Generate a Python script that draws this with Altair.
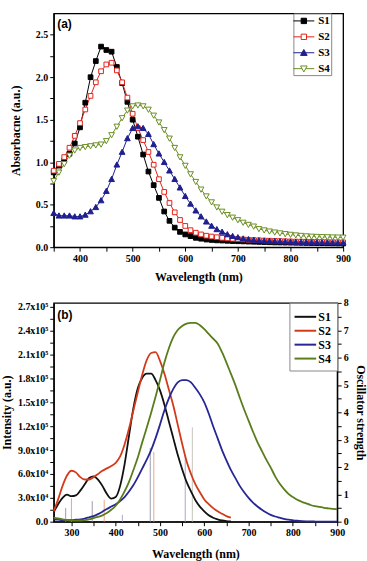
import altair as alt
import pandas as pd

SERIES = ["S1", "S2", "S3", "S4"]

# ---------------- (a) absorbance, 350-900 nm, every 10 nm ----------------
abs_wl = list(range(350, 901, 10))
abs_s1 = [0.88, 0.96, 1.02, 1.10, 1.22, 1.41, 1.70, 2.00, 2.19, 2.36,
          2.32, 2.30, 2.12, 1.93, 1.71, 1.50, 1.30, 1.09, 0.89, 0.73,
          0.58, 0.42, 0.31, 0.23, 0.18, 0.15, 0.13, 0.11, 0.10, 0.09,
          0.085, 0.08, 0.078, 0.075, 0.072, 0.07, 0.068, 0.066, 0.064, 0.062,
          0.06, 0.058, 0.056, 0.055, 0.054, 0.053, 0.052, 0.051, 0.05, 0.049,
          0.048, 0.047, 0.046, 0.045, 0.044, 0.043]
abs_s2 = [0.90, 0.98, 1.06, 1.17, 1.31, 1.46, 1.62, 1.78, 1.94, 2.07,
          2.15, 2.17, 2.08, 1.94, 1.76, 1.57, 1.40, 1.26, 1.12, 0.97,
          0.80, 0.65, 0.52, 0.41, 0.32, 0.25, 0.20, 0.17, 0.15, 0.135,
          0.125, 0.117, 0.11, 0.104, 0.099, 0.095, 0.091, 0.087, 0.084, 0.081,
          0.078, 0.076, 0.074, 0.072, 0.07, 0.068, 0.066, 0.065, 0.064, 0.063,
          0.062, 0.061, 0.06, 0.059, 0.058, 0.057]
abs_s3 = [0.40, 0.37, 0.37, 0.37, 0.36, 0.36, 0.38, 0.42, 0.47, 0.55,
          0.66, 0.80, 0.97, 1.12, 1.28, 1.40, 1.42, 1.40, 1.33, 1.21,
          1.10, 1.00, 0.90, 0.80, 0.70, 0.60, 0.51, 0.43, 0.36, 0.30,
          0.25, 0.21, 0.18, 0.15, 0.13, 0.115, 0.10, 0.092, 0.085, 0.08,
          0.076, 0.073, 0.07, 0.068, 0.066, 0.064, 0.062, 0.061, 0.06, 0.059,
          0.058, 0.057, 0.056, 0.055, 0.054, 0.053]
abs_s4 = [0.78, 0.88, 0.98, 1.08, 1.14, 1.17, 1.18, 1.19, 1.20, 1.21,
          1.25, 1.32, 1.42, 1.52, 1.61, 1.66, 1.67, 1.66, 1.62, 1.55,
          1.47, 1.38, 1.28, 1.17, 1.06, 0.96, 0.86, 0.77, 0.68, 0.60,
          0.53, 0.47, 0.42, 0.38, 0.35, 0.32, 0.29, 0.265, 0.245, 0.215,
          0.20, 0.187, 0.175, 0.165, 0.156, 0.148, 0.141, 0.135, 0.13, 0.126,
          0.123, 0.121, 0.119, 0.117, 0.116, 0.115]

# ---------------- (b) emission (x1000 a.u.) ----------------
em_wl_short = list(range(260, 661, 10))
em_wl_long = list(range(260, 901, 10))
em_s1 = [12, 22, 30, 34, 32, 33, 39, 47, 55, 57,
         53, 45, 35, 29, 31, 45, 72, 108, 143, 168,
         181, 186, 186, 178, 165, 147, 126, 105, 84, 66,
         50, 38, 27, 19, 13, 8, 5, 3, 1.5, 0.7, 0.3]
em_s2 = [13, 28, 45, 58, 64, 62, 56, 53, 53, 56,
         60, 64, 67, 70, 74, 82, 97, 117, 140, 163,
         185, 203, 212, 213, 202, 186, 166, 146, 122, 98,
         76, 60, 47, 37, 28, 22, 17, 13, 10, 7, 5]
em_s3 = [3, 2.5, 2, 2, 2, 2.5, 3, 4, 5.5, 7,
         9.5, 12.5, 16, 19, 22, 26, 31, 38, 46, 56,
         67, 78, 90, 105, 122, 140, 155, 167, 175, 178,
         178, 175, 168, 160, 150, 136, 120, 105, 90, 77,
         65, 55, 45, 37, 30, 24, 19, 15, 11.5, 8.5,
         6.5, 5, 3.5, 2.5, 1.8, 1.2, 0.8, 0.5, 0.3, 0.2,
         0.1, 0.1, 0, 0, 0]
em_s4 = [5, 4, 3, 2, 1.5, 1.3, 1.5, 2, 3, 4.5,
         6, 8, 11, 15, 20, 28, 38, 50, 65, 81,
         100, 118, 137, 157, 178, 200, 218, 232, 241, 246,
         249, 250, 250, 247, 242, 236, 230, 224, 213, 200,
         186, 172, 156, 141, 127, 113, 100, 89, 78, 68,
         57, 48, 41, 35, 31, 27.5, 25, 23, 21, 19.5,
         18.5, 17.5, 16.8, 16.2, 15.5]

# oscillator strengths (stick spectrum)
osc_series = ["S1", "S1", "S1", "S2", "S2", "S2", "S3", "S3", "S4"]
osc_wl = [287, 347, 478, 300, 374, 486, 415, 557, 573]
osc_f = [0.5, 0.75, 2.7, 0.85, 0.8, 2.55, 0.25, 2.45, 3.45]

# ---------------- tables ----------------
abs_rows = []
for name, vals in zip(SERIES, [abs_s1, abs_s2, abs_s3, abs_s4]):
    for w, v in zip(abs_wl, vals):
        abs_rows.append({"series": name, "wl": w, "a": v})
abs_df = pd.DataFrame(abs_rows)

em_rows = []
for name, xs, vals in zip(SERIES, [em_wl_short, em_wl_short, em_wl_long, em_wl_long],
                          [em_s1, em_s2, em_s3, em_s4]):
    for w, v in zip(xs, vals):
        em_rows.append({"series": name, "wl": w, "i": v * 1000})
em_df = pd.DataFrame(em_rows)

osc_df = pd.DataFrame({"series": osc_series, "wl": osc_wl, "f": osc_f})

SERIF = "Liberation Serif"


def panel_label_axis(text, ty):
    # a bare top axis whose only visible part is the panel tag, placed inside the frame
    return alt.Axis(orient="top", title=text, domain=False, ticks=False, labels=False,
                    titleAngle=0, titleAlign="left", titleBaseline="middle",
                    titleX=3, titleY=ty, titleFont="Liberation Sans", titleFontSize=12,
                    titleFontWeight="bold")


# ---------------- panel (a) ----------------
top_colors = ["#000000", "#e2231a", "#1f1f8f", "#6b8e23"]
top_fills = ["#000000", "#ffffff", "#1f1f8f", "#ffffff"]
SQ = "M-0.45,-0.45H0.45V0.45H-0.45Z"
TU = "M0,-0.55L0.55,0.45L-0.55,0.45Z"
TD = "M0,0.55L0.55,-0.45L-0.55,-0.45Z"
top_shapes = [SQ, SQ, TU, TD]

top_xscale = alt.Scale(domain=[350, 900], nice=False, zero=False)
x_top = alt.X("wl:Q", scale=top_xscale,
              axis=alt.Axis(values=list(range(350, 901, 50)),
                            labelExpr="datum.value % 100 == 0 && datum.value > 350 ? datum.value : ''",
                            title="Wavelength (nm)", titleY=29, titleBaseline="middle"))
x_top_tag = alt.X("wl:Q", scale=top_xscale, axis=panel_label_axis("(a)", 10))
y_top = alt.Y("a:Q", scale=alt.Scale(domain=[0, 2.75], nice=False),
              axis=alt.Axis(values=[i * 0.25 for i in range(11)],
                            labelExpr="(datum.value * 2) % 1 == 0 ? format(datum.value, '.1f') : ''",
                            title="Absorbacne (a.u.)", titleX=-38, titleBaseline="middle"))
col_top = alt.Scale(domain=SERIES, range=top_colors)

line_legend = alt.Legend(title=None, orient="none", legendX=241, legendY=0,
                         fillColor="white", strokeColor="#888888", padding=1, rowPadding=4,
                         labelFont=SERIF, labelFontWeight="bold", labelFontSize=11,
                         labelColor="black", symbolSize=144, symbolOffset=3, labelOffset=8,
                         symbolType="M-1.75,0H1.75", symbolStrokeWidth=1,
                         symbolFillColor="transparent", zindex=0)
point_legend = alt.Legend(title=None, orient="none", legendX=241, legendY=0,
                          fillColor="transparent", strokeColor="transparent", padding=1, rowPadding=4,
                          labelFont=SERIF, labelFontWeight="bold", labelFontSize=11,
                          labelExpr="''", symbolSize=144, symbolOffset=3, labelOffset=8,
                          symbolStrokeWidth=1, zindex=1)

top_lines = alt.Chart(abs_df).mark_line(strokeWidth=1).encode(
    x=x_top, y=y_top,
    color=alt.Color("series:N", scale=col_top, legend=line_legend),
)
top_points = alt.Chart(abs_df).mark_point(size=110, strokeWidth=1, opacity=1, fillOpacity=1).encode(
    x=x_top_tag, y=y_top,
    color=alt.Color("series:N", scale=col_top, legend=point_legend),
    fill=alt.Fill("series:N", scale=alt.Scale(domain=SERIES, range=top_fills), legend=point_legend),
    shape=alt.Shape("series:N", scale=alt.Scale(domain=SERIES, range=top_shapes), legend=point_legend),
)
top = alt.layer(top_lines, top_points).resolve_legend(
    color="independent", fill="independent", shape="independent"
).resolve_axis(x="independent").properties(width=291, height=235)

# ---------------- panel (b) ----------------
bot_colors = ["#111111", "#d43a1a", "#262694", "#5a7d1c"]
stick_colors = ["#9a9cb0", "#e8a585", "#a8a8d6", "#c8c4b8"]

bot_xscale = alt.Scale(domain=[260, 900], nice=False, zero=False)
x_bot = alt.X("wl:Q", scale=bot_xscale,
              axis=alt.Axis(orient="bottom", values=list(range(300, 901, 50)),
                            labelExpr="datum.value % 100 == 0 ? datum.value : ''",
                            title="Wavelength (nm)", titleY=32, titleBaseline="middle"))

int_label = ("(datum.value / 15000) % 2 != 0 ? '' : datum.value == 0 ? '0.0' : "
             "datum.value >= 100000 ? format(datum.value / 100000, '.1f') + 'x10\u2075' : "
             "format(datum.value / 10000, '.1f') + 'x10\u2074'")

sticks = alt.Chart(osc_df).mark_rule(strokeWidth=1).encode(
    x=alt.X("wl:Q", scale=bot_xscale, axis=panel_label_axis("(b)", 12)),
    y=alt.Y("f:Q", scale=alt.Scale(domain=[0, 8], nice=False),
            axis=alt.Axis(orient="right", values=[i * 0.5 for i in range(17)],
                          labelExpr="datum.value % 1 == 0 ? datum.value : ''",
                          title="Oscillator strength", titleX=23, titleBaseline="middle")),
    y2=alt.datum(0),
    color=alt.Color("series:N", scale=alt.Scale(domain=SERIES, range=stick_colors), legend=None),
)

bot_legend = alt.Legend(title=None, orient="none", legendX=237, legendY=0,
                        fillColor="white", strokeColor="#888888", padding=6, rowPadding=0,
                        labelFont=SERIF, labelFontWeight="bold", labelFontSize=12,
                        labelColor="black", symbolSize=196, symbolOffset=2, labelOffset=5,
                        symbolType="M-1.55,0H1.55", symbolStrokeWidth=2)

curves = alt.Chart(em_df).mark_line(strokeWidth=1.8, interpolate="monotone").encode(
    x=x_bot,
    y=alt.Y("i:Q", scale=alt.Scale(domain=[0, 275000], nice=False),
            axis=alt.Axis(orient="left", values=list(range(0, 270001, 15000)),
                          labelExpr=int_label, title="Intensity (a.u.)",
                          titleX=-47, titleBaseline="middle")),
    color=alt.Color("series:N", scale=alt.Scale(domain=SERIES, range=bot_colors), legend=bot_legend),
)

bottom = alt.layer(sticks, curves).resolve_scale(
    y="independent", color="independent"
).resolve_axis(x="independent").properties(width=285, height=220)

chart = alt.vconcat(top, bottom, spacing=56, bounds="flush").properties(
    padding={"left": 0, "top": 10, "right": 0, "bottom": 0},
    background="white",
).configure_view(
    stroke="black", strokeWidth=1.3,
).configure_axis(
    labelFont=SERIF, labelFontWeight="bold", labelFontSize=10, labelColor="black",
    titleFont=SERIF, titleFontWeight="bold", titleFontSize=12, titleColor="black",
    domainColor="black", domainWidth=1.3, tickColor="black", tickWidth=1, tickSize=4,
    labelPadding=2, grid=False, labelFlush=False, labelOverlap=False,
)

chart.save("out.html", embed_options={"renderer": "svg", "actions": False})
